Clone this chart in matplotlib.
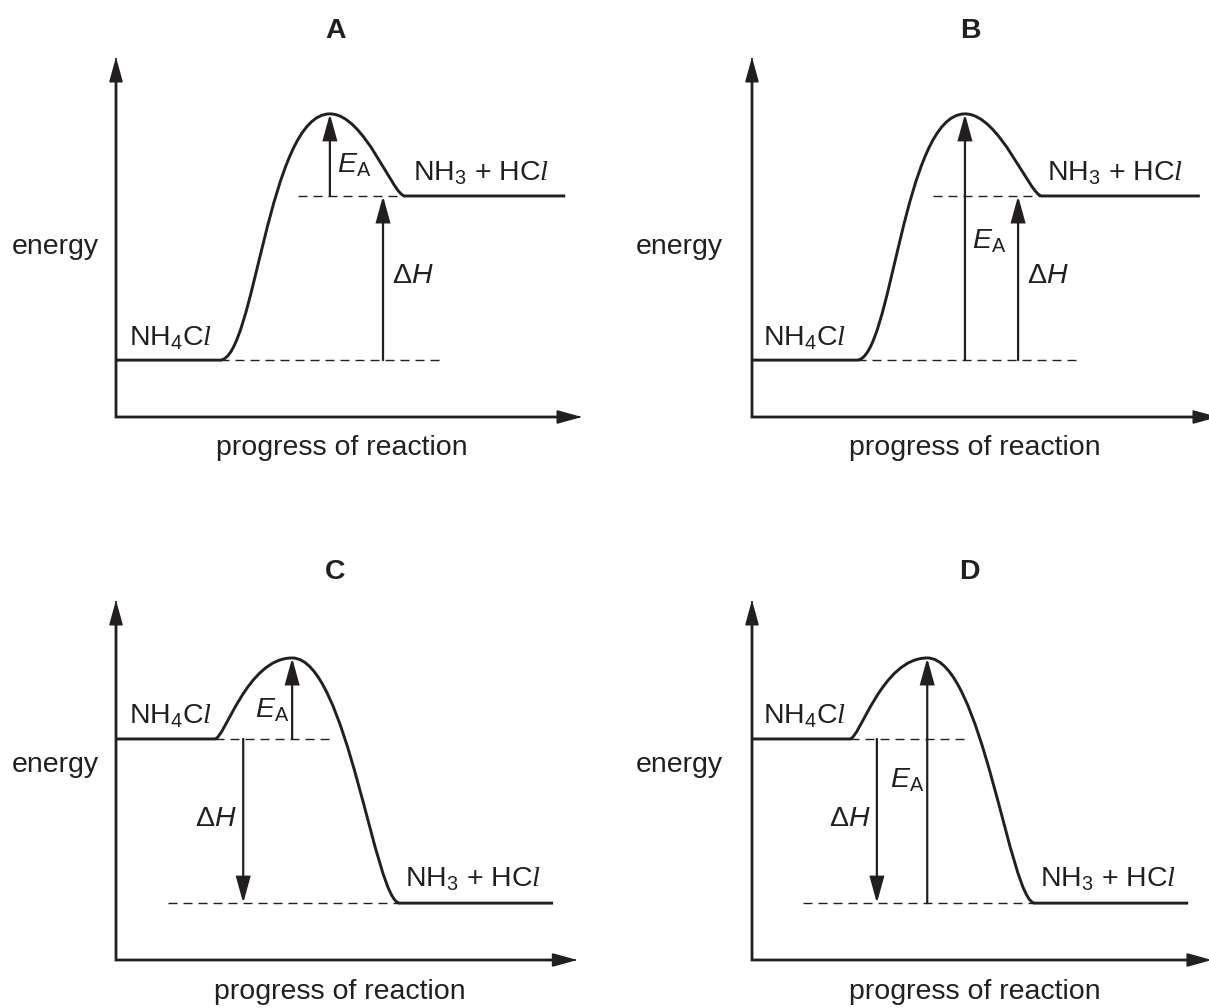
import matplotlib.pyplot as plt
from matplotlib.path import Path
from matplotlib.patches import PathPatch

plt.rcParams['font.family'] = 'Liberation Sans'
plt.rcParams['mathtext.fontset'] = 'custom'
plt.rcParams['mathtext.rm'] = 'Liberation Sans'
plt.rcParams['mathtext.it'] = 'Liberation Sans:italic'
plt.rcParams['mathtext.cal'] = 'Liberation Serif:italic'

INK = '#231f20'
FS = 20.5

# --- data: progress 0-100 along the x axis, energy 0-100 up the y axis ---
panel_names = ['A', 'B', 'C', 'D']
reactant_energy = [15.8, 15.8, 61.4, 61.4]
product_energy = [61.4, 61.4, 15.8, 15.8]
peak_energy = [84.2, 84.2, 83.9, 83.9]
rise_start = [22.3, 22.5, 21.2, 21.0]
peak_progress = [45.9, 45.7, 37.8, 37.6]
fall_end = [62.0, 62.2, 60.9, 60.7]
product_line_end = [96.4, 96.1, 93.8, 93.6]
# bezier handle lengths (progress units) for the rising / falling parts
rise_handles = [(7.5, 13.3), (7.5, 13.3), (2.1, 9.7), (2.1, 9.7)]
fall_handles = [(7.5, 2.6), (7.5, 2.6), (11.8, 5.3), (11.8, 5.3)]

# arrows and guide lines
ea_x = [45.9, 45.7, 37.8, 37.6]
ea_from = ['product', 'reactant', 'reactant', 'product']
dh_x = [57.3, 57.1, 27.3, 26.8]
reactant_dash_end = [70.0, 69.7, 45.9, 45.7]
product_dash_start = [39.0, 38.8, 11.2, 10.9]

reactant_label = r'NH$_4$C$\mathcal{l}$'
product_label = r'NH$_3$ + HC$\mathcal{l}$'
ea_label = r'$E_\mathrm{A}$'
dh_label = r'$\Delta H$'

# --- layout (pixels of the 1209x1008 figure) ---
W, H = 1209, 1008
origins = [(116, 417), (752, 417), (116, 960), (752, 960)]
ax_w, ax_h = 466, 360
x_axis_tip = [100, 100, 99, 98.7]
title_pos = [(47.2, 107.2), (46.8, 107.2), (47.0, 107.8), (46.6, 107.8)]
energy_pos = [(-13.1, 47.2), (-15.5, 47.2), (-13.1, 54.2), (-15.5, 54.2)]
progress_pos = [(48.5, -8.6), (47.9, -8.6), (48.1, -8.9), (47.9, -8.9)]
reactant_pos = [(2.8, 20.0), (2.4, 20.0), (2.8, 65.8), (2.4, 65.8)]
product_pos = [(63.7, 65.6), (63.3, 65.8), (62.0, 20.3), (61.8, 20.3)]
ea_pos = [(47.4, 67.8), (47.2, 46.7), (29.8, 67.5), (29.6, 48.0)]
dh_pos = [(59.2, 37.2), (59.0, 37.2), (17.0, 37.2), (16.5, 37.2)]

ARROW = dict(arrowstyle='-|>,head_length=0.8,head_width=0.22', mutation_scale=20,
             color=INK, shrinkA=0, shrinkB=0, joinstyle='miter', snap=False)


def arrow(ax, x0, y0, x1, y1, lw):
    ax.annotate('', xy=(x1, y1), xytext=(x0, y0), annotation_clip=False,
                arrowprops=dict(ARROW, lw=lw))


fig = plt.figure(figsize=(W / 100, H / 100), dpi=100)

for i, name in enumerate(panel_names):
    x0, y0 = origins[i]
    ax = fig.add_axes([x0 / W, 1 - y0 / H, ax_w / W, ax_h / H])
    ax.set_xlim(0, 100)
    ax.set_ylim(0, 100)
    ax.axis('off')

    r, p, pk = reactant_energy[i], product_energy[i], peak_energy[i]
    xs, xp, xe = rise_start[i], peak_progress[i], fall_end[i]
    a1, a2 = rise_handles[i]
    b1, b2 = fall_handles[i]

    # energy profile
    verts = [(0, r), (xs, r),
             (xs + a1, r), (xp - a2, pk), (xp, pk),
             (xp + b1, pk), (xe - b2, p), (xe, p),
             (product_line_end[i], p)]
    codes = [Path.MOVETO, Path.LINETO,
             Path.CURVE4, Path.CURVE4, Path.CURVE4,
             Path.CURVE4, Path.CURVE4, Path.CURVE4,
             Path.LINETO]
    ax.add_patch(PathPatch(Path(verts, codes), fill=False, lw=2.1, color=INK,
                           clip_on=False, capstyle='butt', joinstyle='round'))

    # dashed guide lines
    ax.plot([xs, reactant_dash_end[i]], [r, r], color=INK, lw=1.0,
            dashes=(6.5, 4.3), clip_on=False)
    ax.plot([product_dash_start[i], xe], [p, p], color=INK, lw=1.0,
            dashes=(6.5, 4.3), clip_on=False)

    # axes: one L-shaped line plus arrow heads at the ends
    tip = x_axis_tip[i]
    ax.plot([0, 0, tip - 4], [95, 0, 0], color=INK, lw=2.0,
            solid_joinstyle='miter', clip_on=False, snap=False)
    arrow(ax, 0, 99.5, 0, 100, 1.0)
    arrow(ax, tip - 0.5, 0, tip, 0, 1.0)

    # E_A and delta H arrows
    base = p if ea_from[i] == 'product' else r
    arrow(ax, ea_x[i], base, ea_x[i], pk, 1.6)
    arrow(ax, dh_x[i], r, dh_x[i], p, 1.6)

    # text
    ax.text(*title_pos[i], name, fontsize=FS, fontweight='bold', color=INK,
            ha='center', va='center')
    ax.text(*energy_pos[i], 'energy', fontsize=FS, color=INK, ha='center', va='center')
    ax.text(*progress_pos[i], 'progress of reaction', fontsize=FS, color=INK,
            ha='center', va='center')
    ax.text(*reactant_pos[i], reactant_label, fontsize=FS, color=INK,
            ha='left', va='baseline')
    ax.text(*product_pos[i], product_label, fontsize=FS, color=INK,
            ha='left', va='baseline')
    ax.text(*ea_pos[i], ea_label, fontsize=FS, color=INK, ha='left', va='baseline')
    ax.text(*dh_pos[i], dh_label, fontsize=FS, color=INK, ha='left', va='baseline')

fig.savefig('out.png', dpi=100)
